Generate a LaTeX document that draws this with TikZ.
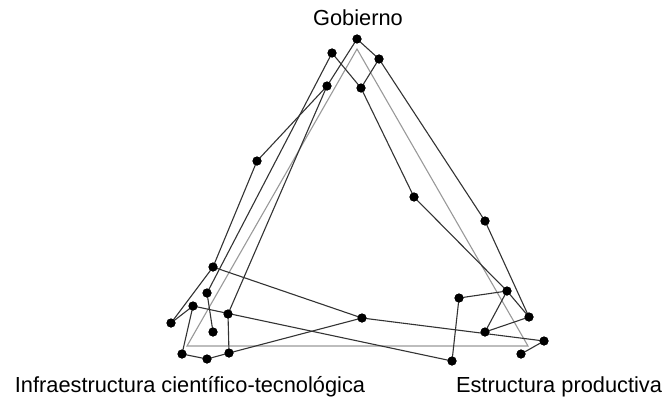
\documentclass[tikz,border=0pt]{standalone}
\usepackage{fontspec}
\setmainfont{Liberation Sans}
\begin{document}
\begin{tikzpicture}[x=1pt,y=-1pt,
  pt/.style={circle,fill=black,inner sep=0pt,minimum size=9pt},
  lnk/.style={draw=black!80,line width=1.1pt},
  ref/.style={draw=black!40,line width=1.1pt},
  lab/.style={font=\fontsize{21.8}{26}\selectfont,anchor=base,inner sep=0pt}]
\useasboundingbox (0,0) rectangle (663,396);
% reference triangle
\coordinate (g1) at (357,49);
\coordinate (g2) at (187,346);
\coordinate (g3) at (528,346);
\draw[ref] (g1) -- (g2) -- (g3) -- cycle;
% points
\node[pt] (A) at (357,39) {};
\node[pt] (B) at (332,53) {};
\node[pt] (C) at (379,59) {};
\node[pt] (D) at (327,86) {};
\node[pt] (E) at (361,88) {};
\node[pt] (F) at (257,161) {};
\node[pt] (G) at (414,197) {};
\node[pt] (H) at (485,221) {};
\node[pt] (I) at (213,267) {};
\node[pt] (J) at (207,293) {};
\node[pt] (K) at (193,306) {};
\node[pt] (L) at (171,323) {};
\node[pt] (M) at (213,332) {};
\node[pt] (N) at (228,314) {};
\node[pt] (O) at (182,354) {};
\node[pt] (P) at (207,359) {};
\node[pt] (Q) at (229,353) {};
\node[pt] (R) at (362,318) {};
\node[pt] (S) at (459,298) {};
\node[pt] (T) at (507,291) {};
\node[pt] (U) at (529,317) {};
\node[pt] (V) at (485,332) {};
\node[pt] (W) at (544,341) {};
\node[pt] (X) at (521,354) {};
\node[pt] (Y) at (452,361) {};
% connectors
\draw[lnk] (A.center) -- (C.center);
\draw[lnk] (A.center) -- (D.center);
\draw[lnk] (B.center) -- (E.center);
\draw[lnk] (B.center) -- (J.center);
\draw[lnk] (C.center) -- (E.center);
\draw[lnk] (C.center) -- (H.center);
\draw[lnk] (D.center) -- (F.center);
\draw[lnk] (D.center) -- (N.center);
\draw[lnk] (E.center) -- (G.center);
\draw[lnk] (F.center) -- (I.center);
\draw[lnk] (G.center) -- (T.center);
\draw[lnk] (H.center) -- (U.center);
\draw[lnk] (I.center) -- (L.center);
\draw[lnk] (I.center) -- (R.center);
\draw[lnk] (J.center) -- (M.center);
\draw[lnk] (K.center) -- (L.center);
\draw[lnk] (K.center) -- (O.center);
\draw[lnk] (K.center) -- (Y.center);
\draw[lnk] (N.center) -- (Q.center);
\draw[lnk] (O.center) -- (P.center);
\draw[lnk] (P.center) -- (Q.center);
\draw[lnk] (Q.center) -- (R.center);
\draw[lnk] (R.center) -- (W.center);
\draw[lnk] (S.center) -- (T.center);
\draw[lnk] (S.center) -- (Y.center);
\draw[lnk] (T.center) -- (U.center);
\draw[lnk] (T.center) -- (V.center);
\draw[lnk] (U.center) -- (V.center);
\draw[lnk] (W.center) -- (X.center);
% redraw dots on top
\foreach \n in {A,B,C,D,E,F,G,H,I,J,K,L,M,N,O,P,Q,R,S,T,U,V,W,X,Y}
  \fill (\n) circle (4.5pt);
% labels
\node[lab] (gob) at (358,26) {Gobierno};
\node[lab] (inf) at (190,392) {Infraestructura científico-tecnológica};
\node[lab] (est) at (559,392) {Estructura productiva};
\end{tikzpicture}
\end{document}
